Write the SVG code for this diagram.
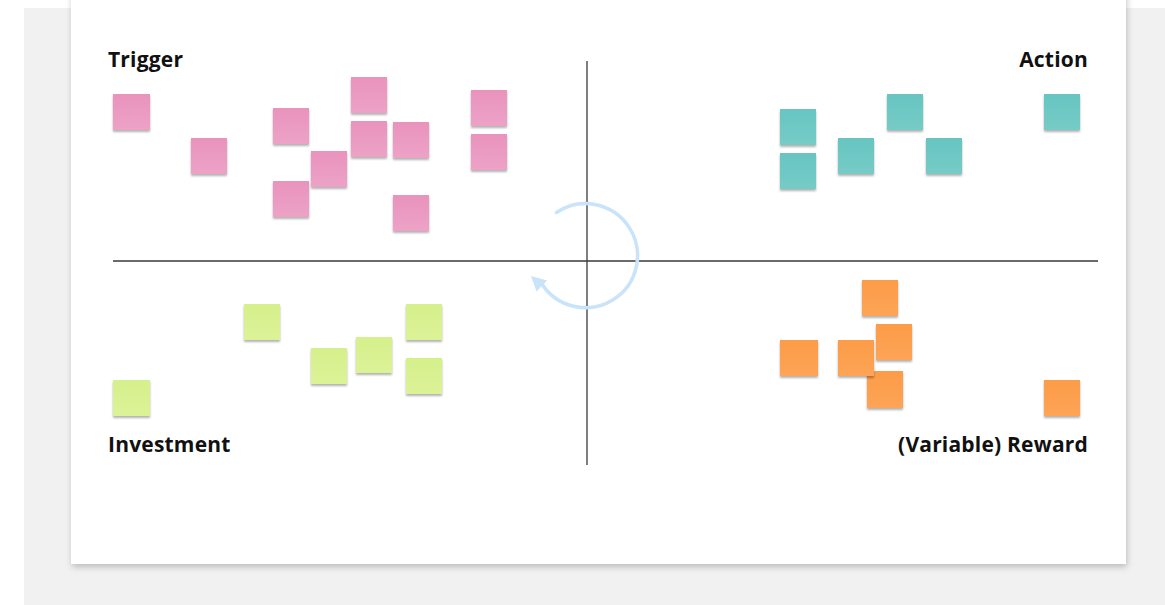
<svg xmlns="http://www.w3.org/2000/svg" width="1165" height="605" viewBox="0 0 1165 605">
  <style>
    .label { font-family: "Open Sans", "Liberation Sans", sans-serif; font-weight: 700; font-size: 21px; letter-spacing: 0.2px; fill: #111111; }
    .axis { stroke: #3a3a3a; stroke-width: 1.3; fill: none; }
    .pink { fill: url(#gPink); }
    .teal { fill: url(#gTeal); }
    .orange { fill: url(#gOrange); }
    .green { fill: url(#gGreen); }
    .note { filter: url(#noteShadow); }
  </style>
  <defs>
    <filter id="pageShadow" x="-5%" y="-5%" width="110%" height="110%">
      <feDropShadow dx="1" dy="3" stdDeviation="3" flood-color="#000000" flood-opacity="0.22"/>
    </filter>
    <filter id="noteShadow" x="-20%" y="-20%" width="140%" height="150%">
      <feDropShadow dx="0" dy="2" stdDeviation="1.3" flood-color="#000000" flood-opacity="0.3"/>
    </filter>
    <linearGradient id="gPink" x1="0" y1="0" x2="0" y2="1">
      <stop offset="0" stop-color="#e993bd"/>
      <stop offset="1" stop-color="#eda2c6"/>
    </linearGradient>
    <linearGradient id="gTeal" x1="0" y1="0" x2="0" y2="1">
      <stop offset="0" stop-color="#67c5c1"/>
      <stop offset="1" stop-color="#76cbc6"/>
    </linearGradient>
    <linearGradient id="gOrange" x1="0" y1="0" x2="0" y2="1">
      <stop offset="0" stop-color="#fc9c48"/>
      <stop offset="1" stop-color="#fda456"/>
    </linearGradient>
    <linearGradient id="gGreen" x1="0" y1="0" x2="0" y2="1">
      <stop offset="0" stop-color="#d6f08c"/>
      <stop offset="1" stop-color="#dcf297"/>
    </linearGradient>
  </defs>

  <rect x="0" y="0" width="1165" height="605" fill="#ffffff"/>
  <rect x="24" y="8" width="1141" height="597" fill="#f1f1f1"/>
  <rect id="page" x="71" y="-10" width="1055" height="574" fill="#ffffff" filter="url(#pageShadow)"/>

  <g id="connectors">
    <line class="axis" x1="587" y1="61" x2="587" y2="465"/>
    <line class="axis" x1="113" y1="261" x2="1098" y2="261"/>
    <path d="M 556.5 212.5 A 52 52 0 1 1 541 282.5" fill="none" stroke="#c9e3f9" stroke-width="3.5" stroke-linecap="round"/>
    <polygon points="531,276 547,280.5 536.5,291.5" fill="#c9e3f9"/>
  </g>

  <g id="trigger">
    <text class="label" x="108" y="67">Trigger</text>
    <rect class="note pink" x="113" y="94" width="37" height="36"/>
    <rect class="note pink" x="191" y="138" width="36" height="36"/>
    <rect class="note pink" x="273" y="108" width="36" height="36"/>
    <rect class="note pink" x="351" y="77" width="36" height="36"/>
    <rect class="note pink" x="351" y="121" width="36" height="36"/>
    <rect class="note pink" x="393" y="122" width="36" height="36"/>
    <rect class="note pink" x="311" y="151" width="36" height="36"/>
    <rect class="note pink" x="273" y="181" width="36" height="36"/>
    <rect class="note pink" x="393" y="195" width="36" height="36"/>
    <rect class="note pink" x="471" y="90" width="36" height="36"/>
    <rect class="note pink" x="471" y="134" width="36" height="36"/>
  </g>

  <g id="action">
    <text class="label" x="1088" y="67" text-anchor="end">Action</text>
    <rect class="note teal" x="780" y="109" width="36" height="36"/>
    <rect class="note teal" x="780" y="153" width="36" height="36"/>
    <rect class="note teal" x="838" y="138" width="36" height="36"/>
    <rect class="note teal" x="887" y="94" width="36" height="36"/>
    <rect class="note teal" x="926" y="138" width="36" height="36"/>
    <rect class="note teal" x="1044" y="94" width="36" height="36"/>
  </g>

  <g id="reward">
    <text class="label" x="1088" y="452" text-anchor="end">(Variable) Reward</text>
    <rect class="note orange" x="862" y="280" width="36" height="36"/>
    <rect class="note orange" x="876" y="324" width="36" height="36"/>
    <rect class="note orange" x="780" y="340" width="38" height="36"/>
    <rect class="note orange" x="867" y="371" width="36" height="37"/>
    <rect class="note orange" x="838" y="340" width="36" height="36"/>
    <rect class="note orange" x="1044" y="380" width="36" height="36"/>
  </g>

  <g id="investment">
    <text class="label" x="108" y="452">Investment</text>
    <rect class="note green" x="244" y="304" width="36" height="36"/>
    <rect class="note green" x="406" y="304" width="36" height="36"/>
    <rect class="note green" x="311" y="348" width="36" height="36"/>
    <rect class="note green" x="356" y="337" width="36" height="36"/>
    <rect class="note green" x="406" y="358" width="36" height="36"/>
    <rect class="note green" x="113" y="380" width="37" height="36"/>
  </g>
</svg>
